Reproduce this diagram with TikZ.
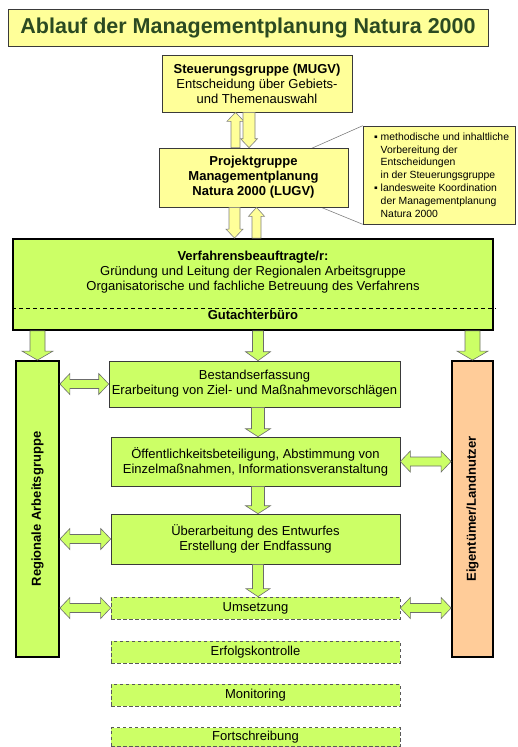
\documentclass[tikz,border=0pt]{standalone}
\usepackage{fontspec}
\setmainfont{Liberation Sans}
\usetikzlibrary{calc}

\definecolor{gelb}{HTML}{FFFF99}
\definecolor{gruen}{HTML}{CCFF66}
\definecolor{pfirsich}{HTML}{FFCC99}
\definecolor{titelgruen}{HTML}{2B4A22}
\definecolor{rahmen}{HTML}{3A3A3A}

\newcommand{\fatarrow}[6]{%
  \coordinate (fas) at (#2);
  \coordinate (fae) at (#3);
  \coordinate (fah) at ($(fae)!#6!(fas)$);
  \draw[#1] ($(fas)!#4!90:(fae)$) -- ($(fah)!#4!90:(fae)$) -- ($(fah)!#5!90:(fae)$) -- (fae)
    -- ($(fah)!#5!-90:(fae)$) -- ($(fah)!#4!-90:(fae)$) -- ($(fas)!#4!-90:(fae)$) -- cycle;}
\newcommand{\fatdarrow}[6]{%
  \coordinate (fas) at (#2);
  \coordinate (fae) at (#3);
  \coordinate (fha) at ($(fas)!#6!(fae)$);
  \coordinate (fhb) at ($(fae)!#6!(fas)$);
  \draw[#1] (fas) -- ($(fha)!#5!90:(fae)$) -- ($(fha)!#4!90:(fae)$) -- ($(fhb)!#4!-90:(fas)$)
    -- ($(fhb)!#5!-90:(fas)$) -- (fae) -- ($(fhb)!#5!90:(fas)$) -- ($(fhb)!#4!90:(fas)$)
    -- ($(fha)!#4!-90:(fae)$) -- ($(fha)!#5!-90:(fae)$) -- cycle;}

\begin{document}
\begin{tikzpicture}[x=1pt, y=-1pt,
  box/.style={draw=rahmen, line width=0.6pt, inner sep=0pt, align=center, font=\fontsize{13}{15}\selectfont},
  ybox/.style={box, fill=gelb},
  gbox/.style={box, fill=gruen},
  dbox/.style={gbox, draw=gray!70!black, line width=0.7pt, dash pattern=on 3.5pt off 2.5pt, minimum width=289pt, minimum height=22pt},
  side/.style={draw=black, line width=1.8pt, inner sep=0pt, minimum height=296pt},
  vtext/.style={rotate=90, font=\bfseries\fontsize{13}{15}\selectfont},
  yarrow/.style={draw=gray, fill=gelb, line width=0.6pt},
  garrow/.style={draw=gray!85!black, fill=gruen, line width=0.6pt}]
  \useasboundingbox (0,0) rectangle (518,747);

  \node[draw=rahmen, fill=gelb, line width=0.8pt, minimum width=480pt, minimum height=37pt, inner sep=0pt,
    font=\bfseries\fontsize{21.5}{26}\selectfont, text=titelgruen] (titel) at (248,27.5) {Ablauf der Managementplanung Natura 2000};

  \node[ybox, minimum width=190pt, minimum height=57pt] (steu) at (257,83.5)
    {\textbf{Steuerungsgruppe (MUGV)}\\Entscheidung über Gebiets-\\und Themenauswahl};

  \node[ybox, minimum width=152pt, minimum height=98pt] (notiz) at (439,175) {};
  \coordinate (spitze) at (247,177);
  \draw[gray, line width=0.6pt] (notiz.north west) -- (spitze) -- (notiz.south west);
  \node[align=left, anchor=west, font=\fontsize{10.4}{12.8}\selectfont] (notiztxt) at ([xshift=8pt]notiz.west)
    {\makebox[6.5pt][l]{▪}methodische und inhaltliche\\\hspace*{6.5pt}Vorbereitung der\\\hspace*{6.5pt}Entscheidungen\\\hspace*{6.5pt}in der Steuerungsgruppe\\
     \makebox[6.5pt][l]{▪}landesweite Koordination\\\hspace*{6.5pt}der Managementplanung\\\hspace*{6.5pt}Natura 2000};

  \node[ybox, minimum width=189pt, minimum height=59pt, font=\bfseries\fontsize{13}{15}\selectfont] (proj) at (253.5,177.5)
    {Projektgruppe\\Managementplanung\\Natura 2000 (LUGV)};

  \node[gbox, draw=black, line width=1.8pt, minimum width=480pt, minimum height=91pt] (verf) at (253,284.5) {};
  \node[align=center, font=\fontsize{13}{15}\selectfont] (verftxt) at (253,272)
    {\textbf{Verfahrensbeauftragte/r:}\\Gründung und Leitung der Regionalen Arbeitsgruppe\\Organisatorische und fachliche Betreuung des Verfahrens};
  \draw[line width=0.6pt, dash pattern=on 4pt off 3pt] ($(verf.south west)+(0,-23)$) -- ($(verf.south east)+(2,-23)$);
  \node[font=\bfseries\fontsize{13}{15}\selectfont] (gutachter) at ($(verf.south)+(0,-16)$) {Gutachterbüro};

  \node[side, fill=gruen, minimum width=43pt] (reg) at (37.5,509) {};
  \node[vtext] (regtxt) at (reg.center) {Regionale Arbeitsgruppe};
  \node[side, fill=pfirsich, minimum width=41pt] (eig) at (472.5,509) {};
  \node[vtext] (eigtxt) at (eig.center) {Eigentümer/Landnutzer};

  \node[gbox, minimum width=291pt, minimum height=46pt] (b1) at (254.5,384)
    {Bestandserfassung\\Erarbeitung von Ziel- und Maßnahmevorschlägen};
  \node[gbox, minimum width=289pt, minimum height=49pt] (b2) at (255.5,461.5)
    {Öffentlichkeitsbeteiligung, Abstimmung von\\Einzelmaßnahmen, Informationsveranstaltung};
  \node[gbox, minimum width=289pt, minimum height=50pt] (b3) at (255.5,539)
    {Überarbeitung des Entwurfes\\Erstellung der Endfassung};
  \node[dbox] (b4) at (255.5,608) {Umsetzung};
  \node[dbox] (b5) at (255.5,652) {Erfolgskontrolle};
  \node[dbox] (b6) at (255.5,695) {Monitoring};
  \node[dbox, minimum height=19pt] (b7) at (255.5,737) {Fortschreibung};

  \coordinate (yo1) at ($(proj.north)+(-18,0)$);
  \coordinate (yo2) at ($(steu.south)+(-8,0)$);
  \fatarrow{yarrow}{yo1}{yo1 |- steu.south}{4.5pt}{8.5pt}{9pt}
  \fatarrow{yarrow}{yo2}{yo2 |- proj.north}{6pt}{8.5pt}{9pt}
  \coordinate (yu1) at ($(proj.south)+(-19,0)$);
  \coordinate (yu2) at ($(verf.north)+(3.5,0)$);
  \fatarrow{yarrow}{yu1}{yu1 |- verf.north}{5.5pt}{8.5pt}{9pt}
  \fatarrow{yarrow}{yu2}{yu2 |- proj.south}{4.5pt}{8pt}{9pt}

  \coordinate (gm) at ($(verf.south)+(5,0)$);
  \fatarrow{garrow}{verf.south -| reg.north}{reg.north}{7.5pt}{15.5pt}{9pt}
  \fatarrow{garrow}{verf.south -| eig.north}{eig.north}{7.5pt}{15.5pt}{9pt}
  \fatarrow{garrow}{gm}{gm |- b1.north}{5.5pt}{12.5pt}{9pt}
  \fatarrow{garrow}{gm |- b1.south}{gm |- b2.north}{6.5pt}{12.5pt}{8pt}
  \fatarrow{garrow}{gm |- b2.south}{gm |- b3.north}{6.5pt}{12.5pt}{8pt}
  \fatarrow{garrow}{gm |- b3.south}{gm |- b4.north}{5.5pt}{12pt}{8pt}

  \fatdarrow{garrow}{reg.east |- b1.west}{b1.west}{4.5pt}{10.5pt}{10pt}
  \fatdarrow{garrow}{reg.east |- b3.west}{b3.west}{4.5pt}{10.5pt}{10pt}
  \fatdarrow{garrow}{reg.east |- b4.west}{b4.west}{4.5pt}{10.5pt}{10pt}
  \fatdarrow{garrow}{b2.east}{b2.east -| eig.west}{4.5pt}{10.5pt}{10pt}
  \fatdarrow{garrow}{b4.east}{b4.east -| eig.west}{4.5pt}{10.5pt}{10pt}
\end{tikzpicture}
\end{document}
